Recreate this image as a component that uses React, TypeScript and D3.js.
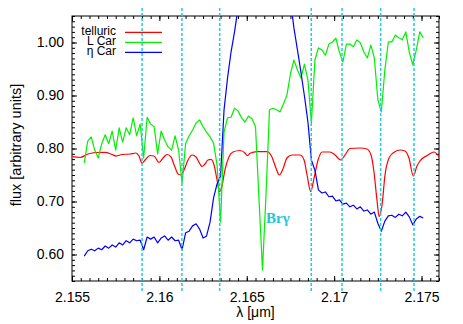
import React, { useEffect, useRef } from "react";
import * as d3 from "d3";

// the two stellar spectra share one wavelength sampling (micron)
const specStart = 2.1557;
const specStep = 0.0002;

const lCarFlux = [
  0.773, 0.814, 0.822, 0.797, 0.782, 0.809, 0.826, 0.809, 0.833, 0.797,
  0.839, 0.812, 0.839, 0.826, 0.858, 0.824, 0.846, 0.782, 0.859, 0.846,
  0.841, 0.790, 0.833, 0.816, 0.803, 0.797, 0.824, 0.797, 0.735, 0.809,
  0.824, 0.835, 0.848, 0.854, 0.841, 0.831, 0.822, 0.810, 0.769, 0.661,
  0.831, 0.858, 0.859, 0.876, 0.871, 0.858, 0.850, 0.861, 0.856, 0.841,
  0.705, 0.571, 0.712, 0.873, 0.876, 0.873, 0.869, 0.884, 0.901, 0.941,
  0.967, 0.948, 0.933, 0.959, 0.929, 0.848, 0.967, 0.990, 0.986, 0.976,
  0.997, 1.001, 1.008, 0.982, 0.963, 0.997, 0.997, 0.992, 1.005, 0.999,
  0.982, 0.971, 0.995, 0.971, 0.892, 0.869, 0.948, 1.001, 1.001, 1.014,
  1.009, 1.005, 1.020, 0.982, 0.958, 0.986, 1.020, 1.009,
];

// null where the Br gamma emission runs off the top of the frame
const etaCarFlux = [
  0.597, 0.607, 0.610, 0.607, 0.612, 0.609, 0.616, 0.612, 0.618, 0.614,
  0.622, 0.618, 0.626, 0.622, 0.629, 0.626, 0.627, 0.609, 0.633, 0.629,
  0.633, 0.622, 0.631, 0.635, 0.627, 0.633, 0.626, 0.627, 0.609, 0.641,
  0.644, 0.654, 0.658, 0.648, 0.631, 0.635, 0.661, 0.707, 0.733, 0.748,
  0.873, 0.933, 0.982, 1.020, 1.065, null, null, null, null, null,
  null, null, null, null, null, null, null, null, null, 1.080,
  1.027, 0.986, 0.944, 0.899, 0.850, 0.778, 0.759, 0.722, 0.716, 0.718,
  0.709, 0.710, 0.701, 0.703, 0.695, 0.697, 0.690, 0.693, 0.686, 0.690,
  0.682, 0.684, 0.676, 0.680, 0.659, 0.644, 0.663, 0.673, 0.674, 0.670,
  0.676, 0.673, 0.680, 0.671, 0.656, 0.667, 0.672, 0.669,
];

const telluricLambda = [
  2.15500, 2.15546, 2.15592, 2.15632, 2.15689, 2.15729, 2.15752, 2.15786, 2.15832, 2.15866,
  2.15883, 2.15901, 2.15918, 2.15946, 2.15969, 2.15998, 2.16021, 2.16044, 2.16066, 2.16089,
  2.16107, 2.16124, 2.16141, 2.16164, 2.16187, 2.16210, 2.16232, 2.16244, 2.16261, 2.16278,
  2.16295, 2.16313, 2.16330, 2.16344, 2.16358, 2.16375, 2.16398, 2.16421, 2.16461, 2.16490,
  2.16504, 2.16519, 2.16559, 2.16616, 2.16644, 2.16667, 2.16686, 2.16707, 2.16730, 2.16759,
  2.16805, 2.16828, 2.16845, 2.16866, 2.16885, 2.16908, 2.16931, 2.16976, 2.17005, 2.17038,
  2.17062, 2.17091, 2.17148, 2.17188, 2.17211, 2.17228, 2.17245, 2.17258, 2.17274, 2.17291,
  2.17314, 2.17337, 2.17377, 2.17405, 2.17428, 2.17453, 2.17474, 2.17491, 2.17537, 2.17571,
  2.17600,
];
const telluricFlux = [
  0.7845, 0.7830, 0.7896, 0.7925, 0.7928, 0.7887, 0.7858, 0.7887, 0.7896, 0.7915,
  0.7858, 0.7721, 0.7783, 0.7868, 0.7858, 0.7736, 0.7821, 0.7887, 0.7840, 0.7651,
  0.7519, 0.7500, 0.7594, 0.7783, 0.7877, 0.7840, 0.7708, 0.7660, 0.7708, 0.7783,
  0.7796, 0.7689, 0.7406, 0.7185, 0.7292, 0.7594, 0.7840, 0.7934, 0.7962, 0.7915,
  0.7864, 0.7909, 0.7940, 0.7940, 0.7840, 0.7632, 0.7500, 0.7613, 0.7821, 0.7877,
  0.7877, 0.7783, 0.7500, 0.7185, 0.7443, 0.7783, 0.7934, 0.7934, 0.7877, 0.7783,
  0.7877, 0.8000, 0.8009, 0.7991, 0.7877, 0.7557, 0.7028, 0.6713, 0.6934, 0.7500,
  0.7821, 0.7915, 0.7972, 0.7953, 0.7821, 0.7481, 0.7670, 0.7764, 0.7877, 0.7934,
  0.7845,
];

// marked absorption lines
const lineLambda = [2.15901, 2.16129, 2.16345, 2.16869, 2.17045, 2.17266, 2.17457];

const xTicks = [2.155, 2.16, 2.165, 2.17, 2.175];
const yTicks = [0.6, 0.7, 0.8, 0.9, 1.0];

const series = [
  { name: "telluric", color: "#ff0000" },
  { name: "L Car", color: "#00f000" },
  { name: "\u03b7 Car", color: "#0000ff" },
];

export default function App() {
  const ref = useRef<SVGSVGElement>(null);

  const width = 463;
  const height = 324;
  const margin = { top: 16, right: 24, bottom: 43, left: 72 };
  const font = "'Liberation Sans', Arial, Helvetica, sans-serif";

  useEffect(() => {
    drawChart();
  }, []);

  function drawChart() {
    const svg = d3.select(ref.current);
    svg.selectAll("*").remove();

    const x = d3.scaleLinear().domain([2.155, 2.176]).range([margin.left, width - margin.right]);
    const y = d3.scaleLinear().domain([0.55, 1.05]).range([height - margin.bottom, margin.top]);
    const x0 = margin.left, x1 = width - margin.right;
    const y0 = height - margin.bottom, y1 = margin.top;

    const xMinor = d3.range(0, 43).map((i) => 2.155 + i * 0.0005);
    const yMinor = d3.range(0, 51).map((i) => 0.55 + i * 0.01);

    svg.append("rect").attr("width", width).attr("height", height).attr("fill", "#fff");

    svg.append("clipPath").attr("id", "plot-clip")
      .append("rect")
      .attr("x", x0).attr("y", y1).attr("width", x1 - x0).attr("height", y0 - y1);

    const styleAxis = (g) => {
      g.select(".domain").remove();
      g.selectAll("line").attr("stroke", "#000");
      g.selectAll("text").attr("fill", "#000");
      g.attr("font-family", font).attr("font-size", 14);
    };

    // ticks on all four sides, pointing inward; labels only bottom and left
    const axes = [
      { make: () => d3.axisBottom(x), at: `translate(0,${y0})`, major: xTicks, minor: xMinor, fmt: d3.format("~g"), pad: 11 },
      { make: () => d3.axisTop(x), at: `translate(0,${y1})`, major: xTicks, minor: xMinor, fmt: null, pad: 8 },
      { make: () => d3.axisLeft(y), at: `translate(${x0},0)`, major: yTicks, minor: yMinor, fmt: d3.format(".2f"), pad: 8 },
      { make: () => d3.axisRight(y), at: `translate(${x1},0)`, major: yTicks, minor: yMinor, fmt: null, pad: 8 },
    ];
    axes.forEach((a) => {
      svg.append("g").attr("transform", a.at)
        .call(a.make().tickValues(a.minor).tickSizeInner(-3).tickSizeOuter(0).tickFormat(() => ""))
        .call(styleAxis);
      svg.append("g").attr("transform", a.at)
        .call(
          a.make().tickValues(a.major).tickSizeInner(-5).tickSizeOuter(0)
            .tickPadding(a.pad)
            .tickFormat(a.fmt ? (d) => a.fmt(d) : () => "")
        )
        .call(styleAxis);
    });

    // frame
    svg.append("rect")
      .attr("x", x0).attr("y", y1).attr("width", x1 - x0).attr("height", y0 - y1)
      .attr("fill", "none").attr("stroke", "#000").attr("stroke-width", 1);

    const plot = svg.append("g").attr("clip-path", "url(#plot-clip)");

    const telluric = telluricLambda.map((l, i) => [l, telluricFlux[i]]);
    const lCar = lCarFlux.map((f, i) => [specStart + i * specStep, f]);
    const etaCar = etaCarFlux.map((f, i) => [specStart + i * specStep, f]);

    const line = d3.line()
      .defined((d) => d[1] !== null)
      .x((d) => x(d[0]))
      .y((d) => y(d[1]));

    [telluric, lCar, etaCar].forEach((data, i) => {
      plot.append("path")
        .attr("fill", "none")
        .attr("stroke", series[i].color)
        .attr("stroke-width", 1.2)
        .attr("stroke-linejoin", "round")
        .attr("d", line.curve(i === 0 ? d3.curveMonotoneX : d3.curveLinear)(data));
    });

    // dotted markers for the lines, running past the frame
    svg.append("g").selectAll("line")
      .data(lineLambda)
      .join("line")
      .attr("x1", (d) => x(d)).attr("x2", (d) => x(d))
      .attr("y1", y(0.531)).attr("y2", y(1.067))
      .attr("stroke", "#22ccdd")
      .attr("stroke-width", 1.5)
      .attr("stroke-dasharray", "3,2");

    svg.append("text")
      .attr("x", x(2.1661)).attr("y", y(0.66))
      .attr("font-family", "'Liberation Serif', 'Times New Roman', serif")
      .attr("font-weight", "bold")
      .attr("font-size", 15)
      .attr("fill", "#22c4d4")
      .text("Br\u03b3");

    // legend
    const legend = svg.append("g").attr("font-family", font).attr("font-size", 12);
    series.forEach((s, i) => {
      const ly = 32.3 + i * 10;
      legend.append("text")
        .attr("x", 116).attr("y", ly)
        .attr("text-anchor", "end")
        .attr("dominant-baseline", "middle")
        .text(s.name);
      legend.append("line")
        .attr("x1", 125).attr("x2", 162)
        .attr("y1", ly).attr("y2", ly)
        .attr("stroke", s.color).attr("stroke-width", 1.3);
    });

    svg.append("text")
      .attr("transform", `translate(21,145) rotate(-90)`)
      .attr("text-anchor", "middle")
      .attr("font-family", font)
      .attr("font-size", 14.5)
      .text("flux [arbitrary units]");

    svg.append("text")
      .attr("x", (x0 + x1) / 2).attr("y", 317)
      .attr("text-anchor", "middle")
      .attr("font-family", font)
      .attr("font-size", 14)
      .text("\u03bb [\u03bcm]");
  }

  return (
    <svg
      ref={ref}
      width={width}
      height={height}
      style={{ position: "absolute", left: 0, top: 0, display: "block" }}
    />
  );
}
